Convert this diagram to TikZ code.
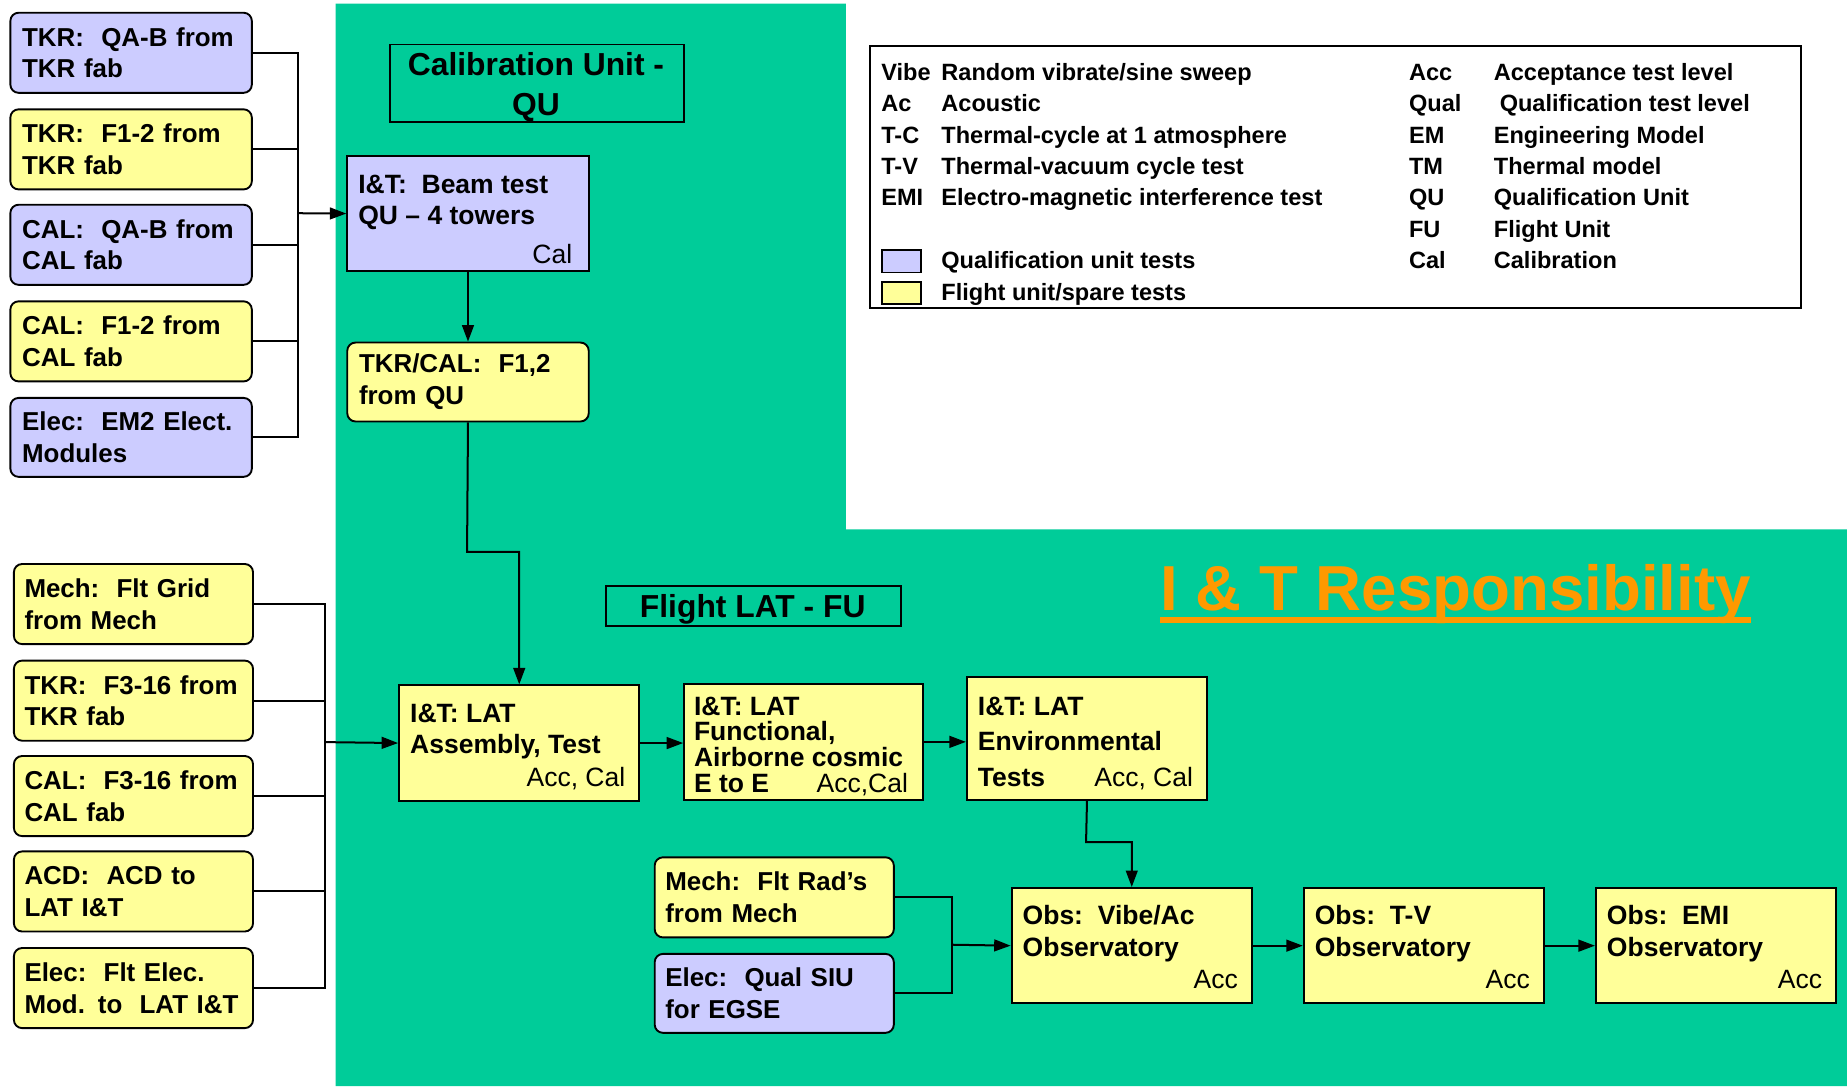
\documentclass[tikz,border=0pt]{standalone}
\usepackage{fontspec}
\setmainfont{Liberation Sans}
\usetikzlibrary{arrows.meta}
\definecolor{bggreen}{HTML}{00CC99}
\definecolor{lav}{HTML}{CCCCFF}
\definecolor{ylw}{HTML}{FFFF99}
\definecolor{orng}{HTML}{FF9900}
\begin{document}
\begin{tikzpicture}[x=1pt,y=-1pt,
  frame/.style={draw=black, line width=1.6pt},
  rbox/.style={frame, rounded corners=7pt, anchor=north west, minimum height=68pt,
     text width=185pt, inner xsep=10pt, inner ysep=0pt, align=left,
     font=\bfseries\fontsize{22}{27}\selectfont},
  rboxb/.style={rbox, text width=185pt, inner xsep=9pt},
  sbox/.style={frame, anchor=north west, inner sep=0pt},
  btxt/.style={anchor=base west, inner sep=0pt, align=left, font=\bfseries\fontsize{22.5}{27}\selectfont},
  ntxt/.style={anchor=base east, inner sep=0pt, font=\fontsize{22.5}{27}\selectfont},
  conn/.style={line width=1.7pt},
  arr/.style={conn, -{Triangle[length=14pt,width=10pt]}},
  legt/.style={anchor=base west, inner sep=0pt, font=\bfseries\fontsize{20}{24}\selectfont},
  ttl/.style={inner sep=0pt, align=center, anchor=base, font=\bfseries\fontsize{27}{33.5}\selectfont},
]
\useasboundingbox (0,0) rectangle (1568,922);
\fill[white] (0,0) rectangle (1568,922);
% green area
\fill[bggreen] (285,3) -- (718,3) -- (718,449.5) -- (1568,449.5) -- (1568,922) -- (285,922) -- cycle;

% legend
\node[sbox, fill=white, minimum width=790pt, minimum height=223pt] (legend) at (738,38) {};
\node[legt] (la1) at (748,68) {Vibe};
\node[legt] (ld1) at (799,68) {Random vibrate/sine sweep};
\node[legt] (la2) at (748,94.7) {Ac};
\node[legt] (ld2) at (799,94.7) {Acoustic};
\node[legt] (la3) at (748,121.4) {T-C};
\node[legt] (ld3) at (799,121.4) {Thermal-cycle at 1 atmosphere};
\node[legt] (la4) at (748,148.1) {T-V};
\node[legt] (ld4) at (799,148.1) {Thermal-vacuum cycle test};
\node[legt] (la5) at (748,174.8) {EMI};
\node[legt] (ld5) at (799,174.8) {Electro-magnetic interference test};
\node[sbox, fill=lav, minimum width=33pt, minimum height=19pt] (sw1) at (748,211.5) {};
\node[legt] (ls1) at (799,228.2) {Qualification unit tests};
\node[sbox, fill=ylw, minimum width=33pt, minimum height=19pt] (sw2) at (748,238.5) {};
\node[legt] (ls2) at (799,254.9) {Flight unit/spare tests};
\node[legt] (ra1) at (1196,68) {Acc};
\node[legt] (rd1) at (1268,68) {Acceptance test level};
\node[legt] (ra2) at (1196,94.7) {Qual};
\node[legt] (rd2) at (1273,94.7) {Qualification test level};
\node[legt] (ra3) at (1196,121.4) {EM};
\node[legt] (rd3) at (1268,121.4) {Engineering Model};
\node[legt] (ra4) at (1196,148.1) {TM};
\node[legt] (rd4) at (1268,148.1) {Thermal model};
\node[legt] (ra5) at (1196,174.8) {QU};
\node[legt] (rd5) at (1268,174.8) {Qualification Unit};
\node[legt] (ra6) at (1196,201.5) {FU};
\node[legt] (rd6) at (1268,201.5) {Flight Unit};
\node[legt] (ra7) at (1196,228.2) {Cal};
\node[legt] (rd7) at (1268,228.2) {Calibration};

% titles
\node[sbox, minimum width=250pt, minimum height=66pt] (calqu) at (330,37) {};
\node[ttl] (calqut) at (455,98) {Calibration Unit -\\QU};
\node[sbox, minimum width=250pt, minimum height=34pt] (flat) at (514,497) {};
\node[ttl] (flatt) at (639,524.5) {Flight LAT - FU};
\node[anchor=base west, inner sep=0pt, text=orng, font=\bfseries\fontsize{54}{60}\selectfont] (resp) at (985,518) {I \& T Responsibility};
\draw[orng, line width=5pt] ([yshift=-8.5pt]resp.base west) -- ([yshift=-8.5pt]resp.base east);

% top-left column
\node[rbox, fill=lav] (t1) at (8,10) {TKR:\ \ QA-B from\\TKR fab};
\node[rbox, fill=ylw] (t2) at (8,92) {TKR:\ \ F1-2 from\\TKR fab};
\node[rbox, fill=lav] (t3) at (8,173) {CAL:\ \ QA-B from\\CAL fab};
\node[rbox, fill=ylw] (t4) at (8,255) {CAL:\ \ F1-2 from\\CAL fab};
\node[rbox, fill=lav, minimum height=67pt] (t5) at (8,337) {Elec:\ \ EM2 Elect.\\Modules};

% beam test
\node[sbox, fill=lav, minimum width=205pt, minimum height=97pt] (beam) at (294,132) {};
\node[btxt] (beamt) at (304,191) {I\&T:\ \ Beam test\\QU – 4 towers};
\node[ntxt] (beamn) at (486,224) {Cal};

\node[rbox, fill=ylw, minimum height=67pt] (tkrcal) at (294,290) {TKR/CAL:\ \ F1,2\\from QU};

% bottom-left column
\node[rboxb, fill=ylw] (b1) at (11,478) {Mech:\ \ Flt Grid\\from Mech};
\node[rboxb, fill=ylw] (b2) at (11,560) {TKR:\ \ F3-16 from\\TKR fab};
\node[rboxb, fill=ylw] (b3) at (11,641) {CAL:\ \ F3-16 from\\CAL fab};
\node[rboxb, fill=ylw] (b4) at (11,722) {ACD:\ \ ACD to\\LAT I\&T};
\node[rboxb, fill=ylw] (b5) at (11,804) {Elec:\ \ Flt Elec.\\Mod. to\ \ LAT I\&T};

% LAT boxes
\node[sbox, fill=ylw, minimum width=204pt, minimum height=98pt] (asm) at (338,581) {};
\node[btxt] (asmt) at (348,640) {I\&T: LAT\\Assembly, Test};
\node[ntxt] (asmn) at (531,668) {Acc, Cal};

\node[sbox, fill=ylw, minimum width=203pt, minimum height=98pt] (func) at (580,580) {};
\node[btxt, font=\bfseries\fontsize{22.5}{21.8}\selectfont] (funct) at (589,672.4) {I\&T: LAT\\Functional,\\Airborne cosmic\\E to E};
\node[ntxt] (funcn) at (771,672.4) {Acc,Cal};

\node[sbox, fill=ylw, minimum width=204pt, minimum height=104pt] (env) at (820,574) {};
\node[btxt, font=\bfseries\fontsize{22.5}{30.2}\selectfont] (envt) at (830,667.4) {I\&T: LAT\\Environmental\\Tests};
\node[ntxt] (envn) at (1013,667.4) {Acc, Cal};

% mid inputs
\node[rboxb, fill=ylw] (mr) at (555,727) {Mech:\ \ Flt Rad’s\\from Mech};
\node[rboxb, fill=lav, minimum height=67pt] (es) at (555,809) {Elec:\ \ Qual SIU\\for EGSE};

% observatory boxes
\node[sbox, fill=ylw, minimum width=204pt, minimum height=98pt] (obsv) at (858,753) {};
\node[btxt] (obsvt) at (868,812) {Obs:\ \ Vibe/Ac\\Observatory};
\node[ntxt] (obsvn) at (1051,839) {Acc};
\node[sbox, fill=ylw, minimum width=204pt, minimum height=98pt] (obst) at (1106,753) {};
\node[btxt] (obstt) at (1116,812) {Obs:\ \ T-V\\Observatory};
\node[ntxt] (obstn) at (1299,839) {Acc};
\node[sbox, fill=ylw, minimum width=204pt, minimum height=98pt] (obse) at (1354,753) {};
\node[btxt] (obset) at (1364,812) {Obs:\ \ EMI\\Observatory};
\node[ntxt] (obsen) at (1547,839) {Acc};

% connectors
\coordinate (busA) at (253,181);
\foreach \n in {t1,t2,t3,t4,t5} \draw[conn] (\n.east) -| (busA);
\draw[arr] (busA) -- (beam.west);
\draw[arr] (beam.south) -- (tkrcal.north);
\coordinate (j1) at (396.5,468.5);
\draw[arr] (tkrcal.south) -- (j1) -| (asm.north);

\coordinate (busB) at (276,630);
\foreach \n in {b1,b2,b3,b4,b5} \draw[conn] (\n.east) -| (busB);
\draw[arr] (busB) -- (asm.west);
\draw[arr] (asm.east) -- (asm.east -| func.west);
\draw[arr] (func.east) -- (func.east -| env.west);
\coordinate (j2) at (922,715);
\draw[arr] (env.south) -- (j2) -| (obsv.north);

\coordinate (busC) at (808,802);
\foreach \n in {mr,es} \draw[conn] (\n.east) -| (busC);
\draw[arr] (busC) -- (obsv.west);
\draw[arr] (obsv.east) -- (obst.west);
\draw[arr] (obst.east) -- (obse.west);
\end{tikzpicture}
\end{document}
